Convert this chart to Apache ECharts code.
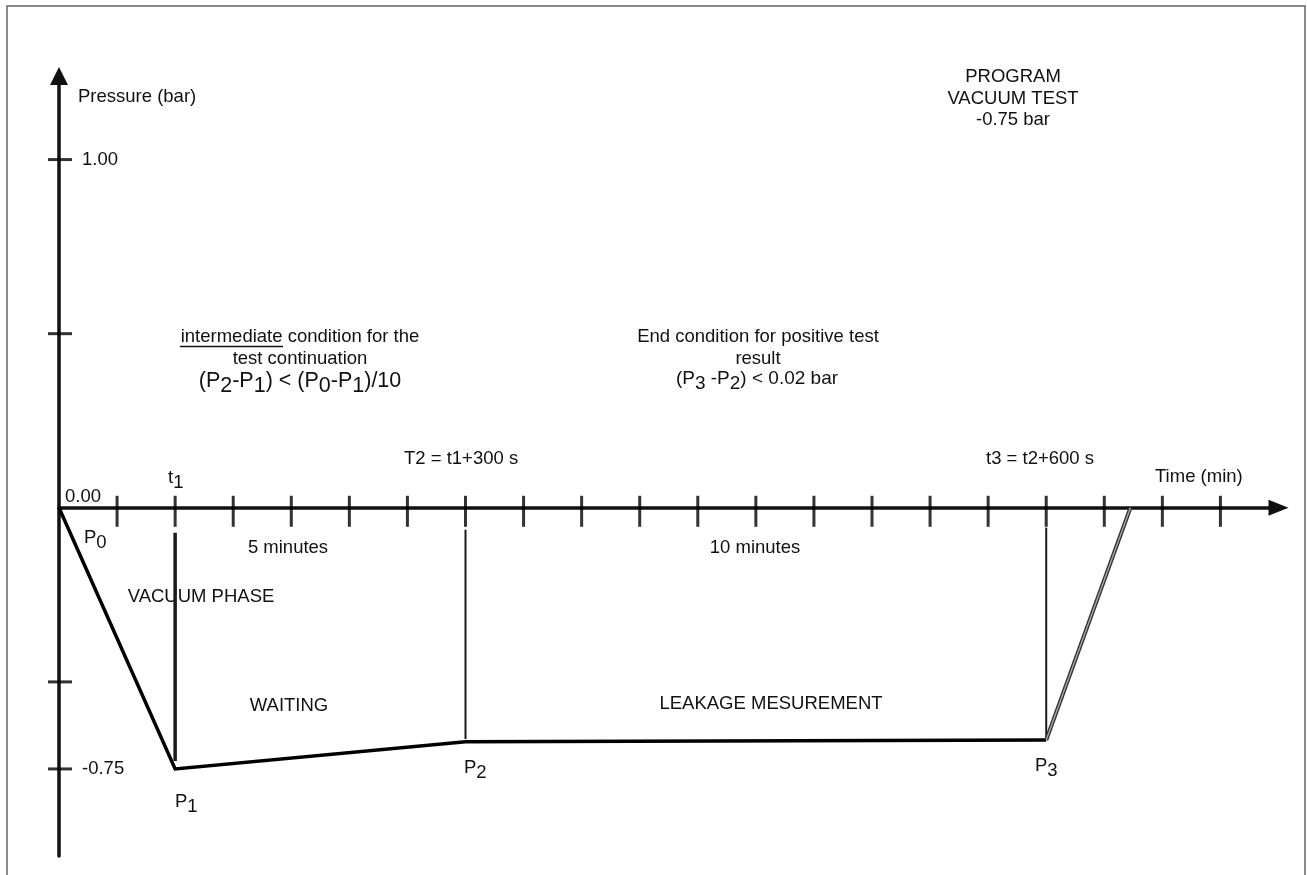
<!DOCTYPE html>
<html>
<head>
<meta charset="utf-8">
<script src="https://cdn.jsdelivr.net/npm/echarts@6/dist/echarts.min.js"></script>
<style>
  html, body { margin: 0; padding: 0; background: #fff; }
  #chart { width: 1307px; height: 875px; }
</style>
</head>
<body>
<div id="chart"></div>
<script>
// time in minutes, pressure in bar
const curveMinutes = [0, 2, 7, 17];
const curvePressure = [0, -0.75, -0.672, -0.667];
const releaseMinutes = [17, 18.45];
const releasePressure = [-0.667, 0];
const markerMinutes = [2, 7, 17];
const markerTop = [-0.072, -0.063, -0.057];
const markerBottom = [-0.727, -0.664, -0.667];
const timeTicks = [1, 2, 3, 4, 5, 6, 7, 8, 9, 10, 11, 12, 13, 14, 15, 16, 17, 18, 19, 20];
const pressureTicks = [1, 0.5, -0.5, -0.75];
const pressureLabels = [1, -0.75];

const FONT = '"Liberation Sans", Arial, sans-serif';
const INK = '#111';
const SIZE = 18.5;

const chart = echarts.init(document.getElementById('chart'));

const pair = (xs, ys) => xs.map((x, i) => [x, ys[i]]);

// P with subscript, as rich text
const subRich = (size, drop) => ({
  n: {fontSize: size, fontFamily: FONT, color: INK},
  s: {fontSize: size, fontFamily: FONT, color: INK, padding: [drop, 0, 0, 0]}
});

const text = (str, x, y, align, extra) => ({
  type: 'text',
  x: x,
  y: y,
  silent: true,
  style: Object.assign({
    text: str,
    fontSize: SIZE,
    fontFamily: FONT,
    fill: INK,
    align: align || 'left',
    verticalAlign: 'middle'
  }, extra || {})
});

const richText = (str, x, y, align, size, drop) =>
  text(str, x, y, align, {rich: subRich(size, drop), fontSize: size});

const markerWidths = [3.5, 2, 2];

const option = {
  animation: false,
  grid: {left: 59, right: 28.5, top: 76, bottom: 19},
  xAxis: {
    type: 'value',
    min: 0,
    max: 21,
    axisLine: {
      onZero: true,
      symbol: ['none', 'triangle'],
      symbolSize: [16, 20],
      lineStyle: {color: INK, width: 3.5}
    },
    axisTick: {show: false},
    axisLabel: {show: false},
    splitLine: {show: false}
  },
  yAxis: {
    type: 'value',
    min: -1,
    max: 1.24,
    axisLine: {
      show: true,
      symbol: ['none', 'triangle'],
      symbolSize: [18, 18],
      lineStyle: {color: INK, width: 3.5}
    },
    axisTick: {show: false},
    axisLabel: {
      inside: true,
      margin: 23,
      customValues: pressureLabels,
      formatter: v => v.toFixed(2),
      fontSize: SIZE,
      fontFamily: FONT,
      color: INK
    },
    splitLine: {show: false}
  },
  series: [
    {
      type: 'scatter',
      clip: false,
      silent: true,
      symbol: 'rect',
      symbolSize: [3, 31],
      symbolOffset: [0, 3.5],
      itemStyle: {color: '#000'},
      data: timeTicks.map(m => [m, 0])
    },
    {
      type: 'scatter',
      clip: false,
      silent: true,
      symbol: 'rect',
      symbolSize: [24, 3],
      symbolOffset: [1, 0],
      itemStyle: {color: '#000'},
      data: pressureTicks.map(p => [0, p])
    },
    ...markerMinutes.map((m, i) => ({
      type: 'line',
      silent: true,
      symbol: 'none',
      lineStyle: {color: '#1a1a1a', width: markerWidths[i]},
      data: [[m, markerTop[i]], [m, markerBottom[i]]]
    })),
    {
      type: 'line',
      silent: true,
      symbol: 'none',
      lineStyle: {color: '#000', width: 3.5, join: 'miter'},
      data: pair(curveMinutes, curvePressure)
    },
    {
      type: 'line',
      silent: true,
      symbol: 'none',
      lineStyle: {color: '#333', width: 4},
      data: pair(releaseMinutes, releasePressure)
    },
    {
      type: 'line',
      silent: true,
      symbol: 'none',
      lineStyle: {color: '#aaa', width: 1.3},
      data: pair(releaseMinutes, releasePressure)
    }
  ],
  graphic: [
    {
      type: 'rect',
      silent: true,
      shape: {x: 7, y: 6, width: 1298, height: 900},
      style: {fill: 'none', stroke: '#666', lineWidth: 1.5}
    },
    text('Pressure (bar)', 78, 97),
    text('PROGRAM\nVACUUM TEST\n-0.75 bar', 1013, 98.5, 'center', {lineHeight: 21.5}),
    text('0.00', 65, 497),
    richText('{n|t}{s|1}', 168, 478, 'left', SIZE, 9),
    text('T2 = t1+300 s', 404, 459),
    text('t3 = t2+600 s', 986, 459),
    text('Time (min)', 1155, 477),
    text('5 minutes', 288, 548, 'center'),
    text('10 minutes', 755, 548, 'center'),
    text('VACUUM PHASE', 201, 597, 'center'),
    text('WAITING', 289, 706, 'center'),
    text('LEAKAGE MESUREMENT', 771, 704, 'center'),
    text('intermediate condition for the\ntest continuation', 300, 348, 'center', {lineHeight: 22}),
    {
      type: 'line',
      silent: true,
      shape: {x1: 180, y1: 346.5, x2: 283, y2: 346.5},
      style: {stroke: INK, lineWidth: 1.5}
    },
    richText('{n|(P}{s|2}{n|-P}{s|1}{n|) < (P}{s|0}{n|-P}{s|1}{n|)/10}', 300, 381, 'center', 21.5, 11),
    text('End condition for positive test\nresult', 758, 348, 'center', {lineHeight: 22}),
    richText('{n|(P}{s|3}{n| -P}{s|2}{n|) < 0.02 bar}', 757, 379, 'center', 19, 10),
    richText('{n|P}{s|0}', 84, 538, 'left', SIZE, 9),
    richText('{n|P}{s|1}', 175, 802, 'left', SIZE, 9),
    richText('{n|P}{s|2}', 464, 768, 'left', SIZE, 9),
    richText('{n|P}{s|3}', 1035, 766, 'left', SIZE, 9)
  ]
};

chart.setOption(option);
</script>
</body>
</html>
